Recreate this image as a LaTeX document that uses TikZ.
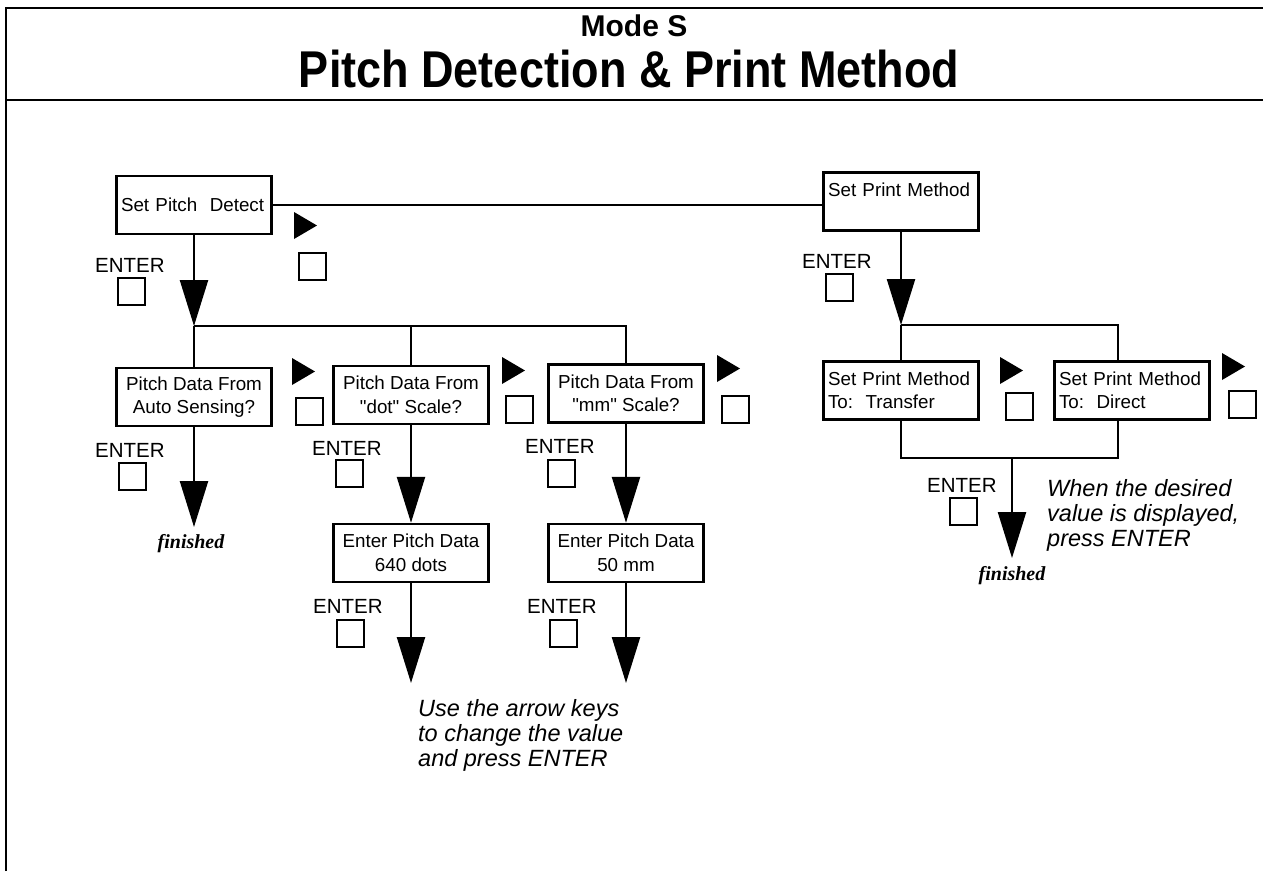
\documentclass[tikz,border=0pt]{standalone}
\usepackage{fontspec}
\setmainfont{Liberation Sans}
\newfontfamily\finfont{Liberation Serif}
\usetikzlibrary{arrows.meta}
\begin{document}
\begin{tikzpicture}[x=1pt,y=-1pt,
  frame/.style={line width=2.8pt},
  conn/.style={line width=2.4pt},
  arr/.style={conn,-{Triangle[width=28pt,length=46pt]}},
  box/.style={draw,line width=2.4pt,minimum width=155pt,minimum height=58pt,inner sep=0pt,
    font=\fontsize{18.8}{23.5}\selectfont,align=center},
  lbox/.style={box,align=left,text width=146pt},
  keysq/.style={draw,line width=2pt,minimum size=27pt,inner sep=0pt},
  enter/.style={anchor=base west,inner sep=0pt,font=\fontsize{20.5}{20.5}\selectfont},
  note/.style={anchor=north west,inner sep=0pt,align=left,font=\itshape\fontsize{23.5}{25}\selectfont},
  fin/.style={anchor=base,inner sep=0pt,font=\finfont\bfseries\itshape\fontsize{20}{20}\selectfont},
  playkey/.pic={\fill (0,0) -- (0,27) -- (23,13.5) -- cycle;}
]
\useasboundingbox (0,0) rectangle (1263,871);
% frame
\draw[frame] (6,871) -- (6,8) -- (1263,8);
\draw[frame] (6,100) -- (1263,100);
\node[anchor=base,inner sep=0pt,font=\bfseries\fontsize{30}{30}\selectfont] (mode) at (634,36) {Mode S};
\node[anchor=base,inner sep=0pt,font=\bfseries\fontsize{45}{45}\selectfont] (title) at (629,87) {\scalebox{1}[1.15]{Pitch Detection \& Print Method}};

% top boxes
\node[lbox] (spd) at (194,205) {Set Pitch\ \ Detect};
\node[lbox] (spm) at (901,201.5) {Set Print Method\\ \mbox{}};

% second row
\node[box] (auto) at (194,397) {Pitch Data From\\Auto Sensing?};
\node[box] (dot) at (411,395) {Pitch Data From\\\textquotedbl dot\textquotedbl\ Scale?};
\node[box] (mm) at (626,393.5) {Pitch Data From\\\textquotedbl mm\textquotedbl\ Scale?};
\node[lbox] (tr) at (901,390.5) {Set Print Method\\To:\ \ Transfer};
\node[lbox] (di) at (1132,390.5) {Set Print Method\\To:\ \ Direct};

% third row
\node[box] (epd) at (411,553) {Enter Pitch Data\\640 dots};
\node[box] (epm) at (626,553) {Enter Pitch Data\\50 mm};

% junctions and free ends
\coordinate (j1) at (194,326);
\coordinate (j2) at (901,325);
\coordinate (j3) at (1012,458);
\coordinate (t1) at (194,527);
\coordinate (t2) at (411,683);
\coordinate (t3) at (626,683);
\coordinate (t4) at (1012,558);

% connectors
\draw[conn] (spd.east) -- (spd.east -| spm.west);
\draw[arr] (spd.south) -- (j1);
\draw[conn] (j1) -- (auto.north);
\draw[conn] (j1) -| (dot.north);
\draw[conn] (j1) -| (mm.north);
\draw[arr] (auto.south) -- (t1);
\draw[arr] (dot.south) -- (epd.north);
\draw[arr] (mm.south) -- (epm.north);
\draw[arr] (epd.south) -- (t2);
\draw[arr] (epm.south) -- (t3);
\draw[arr] (spm.south) -- (j2);
\draw[conn] (j2) -- (tr.north);
\draw[conn] (j2) -| ([xshift=-14pt]di.north);
\draw[conn] (tr.south) |- (j3) -| ([xshift=-14pt]di.south);
\draw[arr] (j3) -- (t4);

% keys
\pic at (294,212) {playkey};
\node[keysq] (k1) at (312,266) {};
\node[enter] (e1) at (95,272) {ENTER};
\node[keysq] (k2) at (131,291) {};
\node[enter] (e2) at (802,268) {ENTER};
\node[keysq] (k3) at (839,287.5) {};

\pic at (292,358) {playkey};
\node[keysq] (k4) at (309.5,411) {};
\node[enter] (e3) at (95,457) {ENTER};
\node[keysq] (k5) at (132.5,476) {};

\pic at (502,357) {playkey};
\node[keysq] (k6) at (519.5,409.5) {};
\node[enter] (e4) at (312,455) {ENTER};
\node[keysq] (k7) at (349,473) {};

\pic at (717,355) {playkey};
\node[keysq] (k8) at (735,409) {};
\node[enter] (e5) at (525,453) {ENTER};
\node[keysq] (k9) at (561.5,473.5) {};

\node[enter] (e6) at (313,613) {ENTER};
\node[keysq] (k10) at (350,633.5) {};
\node[enter] (e7) at (527,613) {ENTER};
\node[keysq] (k11) at (563,633.5) {};

\pic at (1000,357) {playkey};
\node[keysq] (k12) at (1019,406) {};
\pic at (1222,353) {playkey};
\node[keysq] (k13) at (1242,404) {};
\node[enter] (e8) at (927,492) {ENTER};
\node[keysq] (k14) at (963,511) {};

% labels
\node[fin] (f1) at (191,548) {finished};
\node[fin] (f2) at (1012,580) {finished};
\node[note] (n1) at (418,699) {Use the arrow keys\\to change the value\\and press ENTER};
\node[note] (n2) at (1047,479) {When the desired\\value is displayed,\\press ENTER};
\end{tikzpicture}
\end{document}
